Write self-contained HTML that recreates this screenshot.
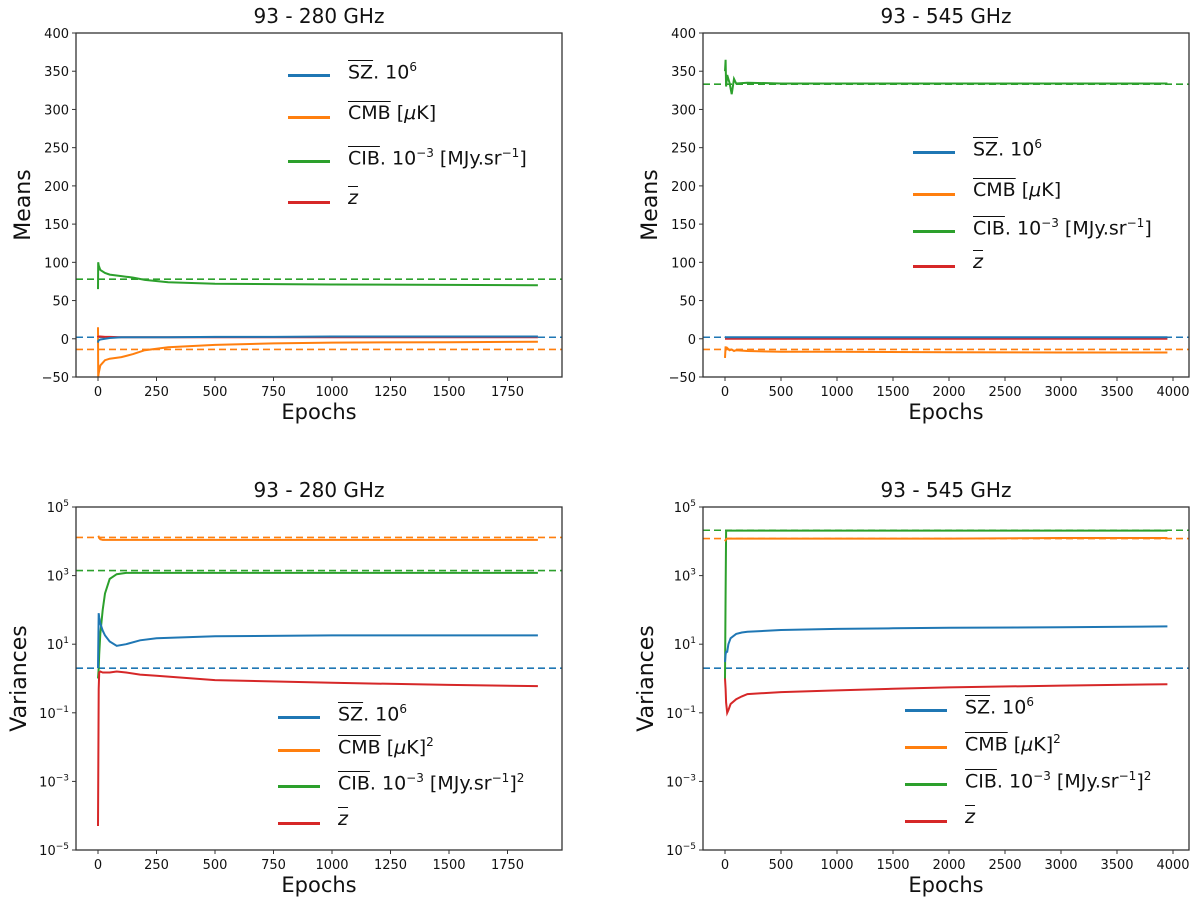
<!DOCTYPE html>
<html><head><meta charset="utf-8"><style>
body{margin:0;background:#fff;}
#wrap{position:relative;width:1200px;height:905px;font-family:"DejaVu Sans","Liberation Sans",sans-serif;}
svg{position:absolute;left:0;top:0}
.leg{position:absolute;font-size:19px;color:#111;white-space:nowrap}
.leg .row{position:absolute;left:0;height:20px;}
.leg .ln{position:absolute;left:0;top:8px;width:42px;height:2.5px}
.leg .tx{position:absolute;left:60px;top:-6px}
.ov{text-decoration:overline}
sup{font-size:12px}
</style></head><body>
<div id="wrap">
<svg id="svg" width="1200" height="905"></svg>
</div>
<script>
// ---- data ----
const tlEpochs=[0,1,3,10,30,50,100,150,200,300,500,750,1000,1500,1880];
const tlSZ=[-5,-3,-2,-1,0,1,2,2,2,2,2.5,2.5,3,3,3];
const tlCMB=[15,-50,-45,-35,-28,-26,-24,-20,-15,-11,-8,-6,-5,-4.5,-4];
const tlCIB=[65,100,96,90,86,84,82,80,77,74,72,71.5,71,70.5,70];
const tlZ=[4,3,3,3,2.5,2.5,2,2,2,2,2,2,2,2,2];
const tlRef=[2,-14,78];
const trEpochs=[0,5,10,20,40,60,80,100,200,500,1000,2000,3000,3950];
const trSZ=[3,2,2,2,2,2,2,2,2,2,2,2,2,2];
const trCMB=[-25,-10,-14,-12,-15,-14,-16,-15,-16,-17,-17,-17.5,-18,-18];
const trCIB=[350,365,330,345,335,320,340,334,335,334,334,334,334,334];
const trZ=[0,0,0,0,0,0,0,0,0,0,0,0,0,0];
const trRef=[2,-14,333];
const blEpochs=[0,3,5,10,20,30,50,80,120,180,250,500,1000,1500,1880];
const blSZ=[2,80,60,40,25,18,12,9,10,13,15,17,18,18,18];
const blCMB=[13000,13500,12500,11500,11000,11000,11000,11000,11000,11000,11000,11000,11000,11000,11000];
const blCIB=[1,2,5,20,100,300,800,1100,1200,1200,1200,1200,1200,1200,1200];
const blZ=[0.00005,0.5,1.5,1.6,1.5,1.5,1.5,1.6,1.5,1.3,1.2,0.9,0.75,0.65,0.6];
const blRef=[2,13000,1400];
const brEpochs=[0,5,10,20,30,50,100,150,200,500,1000,1500,2000,3000,3950];
const brSZ=[3,5,6,6,10,15,20,22,23,26,28,29,30,31,33];
const brCMB=[10000,11000,11500,12000,12000,12000,12000,12000,12000,12000,12000,12000,12000,12500,12500];
const brCIB=[1,300,20000,20500,20500,20500,20500,20500,20500,20500,20500,20500,20500,20500,20500];
const brZ=[1,0.5,0.2,0.1,0.12,0.18,0.25,0.3,0.35,0.4,0.45,0.5,0.55,0.62,0.68];
const brRef=[2,12000,21000];
const tlXTicks=[0,250,500,750,1000,1250,1500,1750];
const trXTicks=[0,500,1000,1500,2000,2500,3000,3500,4000];
const meanYTicks=[-50,0,50,100,150,200,250,300,350,400];
const varYTicks=[-5,-3,-1,1,3,5];

const C={sz:'#1f77b4',cmb:'#ff7f0e',cib:'#2ca02c',z:'#d62728'};
const NS='http://www.w3.org/2000/svg';
const svg=document.getElementById('svg');
function el(tag,attrs,parent){const e=document.createElementNS(NS,tag);for(const k in attrs)e.setAttribute(k,attrs[k]);(parent||svg).appendChild(e);return e;}

function panel(o){
  const g=el('g',{});
  
  
  const L=o.L,R=o.R,T=o.T,B=o.B;
  const sx=v=>o.x0px+(v)*o.xs;
  const sy=o.log?(v=>T+(5-Math.log10(v))*(B-T)/10):(v=>T+(400-v)*(B-T)/450);
  const clip='c'+o.name;
  const cp=el('clipPath',{id:clip},g);el('rect',{x:L,y:T,width:R-L,height:B-T},cp);
  const pg=el('g',{'clip-path':'url(#'+clip+')'},g);
  const refColors=[C.sz,C.cmb,C.cib];
  o.ref.forEach((v,i)=>{const l=el('line',{x1:L,x2:R,y1:sy(v),y2:sy(v),stroke:refColors[i],'stroke-width':1.6,'stroke-dasharray':'7,4'},pg);
    });
  const series=[['cib',o.cib],['cmb',o.cmb],['z',o.z],['sz',o.sz]];
  series.forEach(([k,arr])=>{
    const d=arr.map((v,i)=>(i?'L':'M')+sx(o.ep[i]).toFixed(1)+','+sy(v).toFixed(1)).join('');
    const p=el('path',{d:d,fill:'none',stroke:C[k],'stroke-width':2},pg);
    
  });
  el('rect',{x:L,y:T,width:R-L,height:B-T,fill:'none',stroke:'#333','stroke-width':1.3},g);
  o.xt.forEach(v=>{const x=sx(v);el('line',{x1:x,x2:x,y1:B,y2:B+4,stroke:'#333'},g);
    const t=el('text',{x:x,y:B+19,'font-size':13,'text-anchor':'middle',fill:'#111'},g);t.textContent=v;
    });
  if(o.log){varYTicks.forEach(e=>{const y=sy(Math.pow(10,e));el('line',{x1:L-4,x2:L,y1:y,y2:y,stroke:'#333'},g);
    const t=el('text',{x:L-7,y:y+5,'font-size':13,'text-anchor':'end',fill:'#111'},g);
    
    const a=el('tspan',{},t);a.textContent='10';const b=el('tspan',{dy:-6,'font-size':9},t);b.textContent=(e<0?'\u2212':'')+Math.abs(e);});}
  else meanYTicks.forEach(v=>{const y=sy(v);el('line',{x1:L-4,x2:L,y1:y,y2:y,stroke:'#333'},g);
    const t=el('text',{x:L-7,y:y+5,'font-size':13,'text-anchor':'end',fill:'#111'},g);t.textContent=v<0?'\u2212'+(-v):v;
    });
  const ti=el('text',{x:(L+R)/2,y:T-10,'font-size':20,'text-anchor':'middle',fill:'#111'},g);ti.textContent=o.title;
  
  const xl=el('text',{x:(L+R)/2,y:B+42,'font-size':21,'text-anchor':'middle',fill:'#111'},g);xl.textContent='Epochs';
  
  const yx=o.log?L-50:L-46;
  const yl=el('text',{x:yx,y:(T+B)/2,'font-size':22,'text-anchor':'middle',fill:'#111',transform:'rotate(-90 '+yx+' '+(T+B)/2+')'},g);yl.textContent=o.ylab;
  
}
panel({name:'means-93-280',L:76,R:562,T:33,B:377,x0px:98,xs:58.5/250,ep:tlEpochs,sz:tlSZ,cmb:tlCMB,cib:tlCIB,z:tlZ,ref:tlRef,xt:tlXTicks,title:'93 - 280 GHz',ylab:'Means'});
panel({name:'means-93-545',L:703,R:1189,T:33,B:377,x0px:725,xs:56/500,ep:trEpochs,sz:trSZ,cmb:trCMB,cib:trCIB,z:trZ,ref:trRef,xt:trXTicks,title:'93 - 545 GHz',ylab:'Means'});
panel({name:'variances-93-280',L:76,R:562,T:507,B:850,x0px:98,xs:58.5/250,ep:blEpochs,sz:blSZ,cmb:blCMB,cib:blCIB,z:blZ,ref:blRef,xt:tlXTicks,title:'93 - 280 GHz',ylab:'Variances',log:true});
panel({name:'variances-93-545',L:703,R:1189,T:507,B:850,x0px:725,xs:56/500,ep:brEpochs,sz:brSZ,cmb:brCMB,cib:brCIB,z:brZ,ref:brRef,xt:trXTicks,title:'93 - 545 GHz',ylab:'Variances',log:true});

function legend(name,left,tops,sq){
  const d=document.createElement('div');d.className='leg';d.style.left=left+'px';d.style.top='0px';
  
  
  const labels=[
    '<span class="ov">SZ</span>. 10<sup>6</sup>',
    '<span class="ov">CMB</span> [<i>μ</i>K]'+(sq?'<sup>2</sup>':''),
    '<span class="ov">CIB</span>. 10<sup>−3</sup> [MJy.sr<sup>−1</sup>]'+(sq?'<sup>2</sup>':''),
    '<span class="ov"><i>z</i></span>'];
  const cols=[C.sz,C.cmb,C.cib,C.z];
  labels.forEach((h,i)=>{const r=document.createElement('div');r.className='row';r.style.top=tops[i]+'px';
    
    
    r.innerHTML='<div class="ln" style="background:'+cols[i]+'"></div><div class="tx">'+h+'</div>';d.appendChild(r);});
  document.getElementById('wrap').appendChild(d);
}
legend('legend-means-93-280',288,[66,108,152,193],false);
legend('legend-means-93-545',913,[143,185,222,257],false);
legend('legend-variances-93-280',278,[708,741,777,814],true);
legend('legend-variances-93-545',905,[701,738,775,812],true);
</script>
</body></html>
